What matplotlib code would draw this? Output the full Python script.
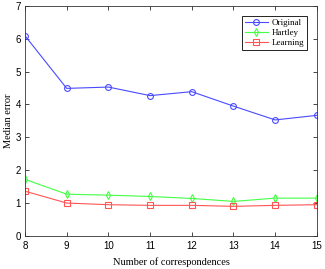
import matplotlib
matplotlib.use("Agg")
import matplotlib.pyplot as plt

x = [8, 9, 10, 11, 12, 13, 14, 15]
original = [6.09, 4.49, 4.53, 4.27, 4.39, 3.95, 3.53, 3.67]
hartley = [1.72, 1.27, 1.24, 1.20, 1.14, 1.05, 1.15, 1.15]
learning = [1.36, 1.00, 0.95, 0.93, 0.93, 0.90, 0.93, 0.95]

fig = plt.figure(figsize=(3.25, 2.69), dpi=100)
ax = fig.add_axes([0.077, 0.123, 0.898, 0.855])

ax.plot(x, original, color="#4a4aff", marker="o", markersize=4.2, mfc="none", mew=0.8, lw=0.8, label="Original")
ax.plot(x, hartley, color="#44ff44", marker="d", markersize=4.2, mfc="none", mew=0.8, lw=0.8, label="Hartley")
ax.plot(x, learning, color="#ff5555", marker="s", markersize=3.8, mfc="none", mew=0.8, lw=0.8, label="Learning")

ax.set_xlim(8, 15)
ax.set_ylim(0, 7)
ax.set_xticks(x)
ax.set_yticks(range(0, 8))
ax.tick_params(direction="in", top=True, right=True, labelsize=7, length=3, width=0.5)
ax.tick_params(axis="x", pad=4)
ax.tick_params(axis="y", pad=3)
for lab in ax.get_xticklabels() + ax.get_yticklabels():
    lab.set_family("Liberation Sans")
for s in ax.spines.values():
    s.set_linewidth(0.6)
    s.set_color("#333333")

ax.set_xlabel("Number of correspondences", family="Liberation Serif", fontsize=7.5, labelpad=4)
ax.set_ylabel("Median error", family="Liberation Serif", fontsize=7.5, labelpad=2)

leg = ax.legend(loc="upper right", prop={"family": "Liberation Serif", "size": 6.5},
                fancybox=False, edgecolor="black", framealpha=1, handlelength=2.6,
                borderpad=0.3, labelspacing=0.2, handletextpad=0.4, borderaxespad=1.1)
leg.get_frame().set_linewidth(0.6)

fig.savefig("out.png", dpi=100)
